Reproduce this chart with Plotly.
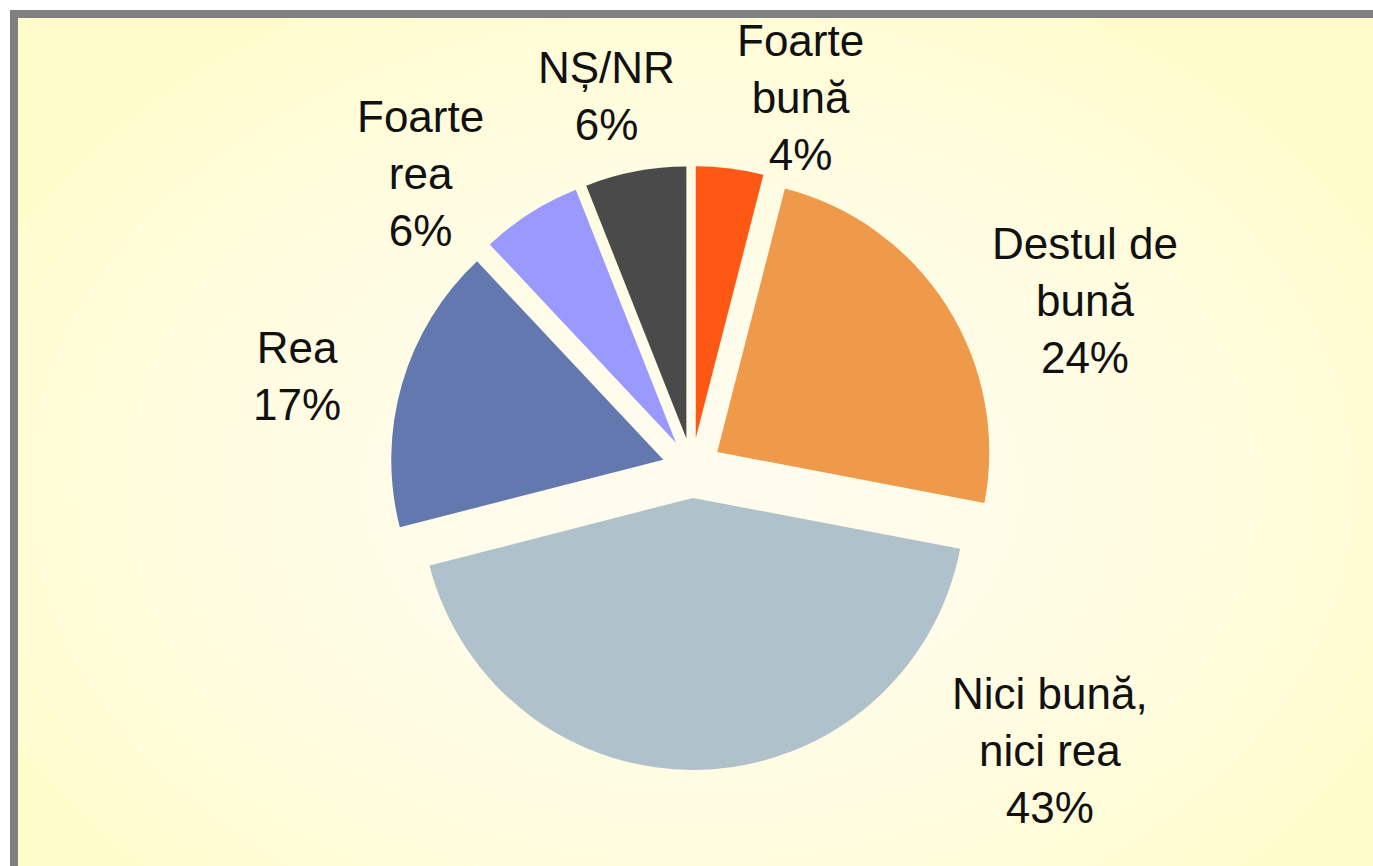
import plotly.graph_objects as go

categories = ["Foarte bună", "Destul de bună", "Nici bună, nici rea", "Rea", "Foarte rea", "NȘ/NR"]
label_lines = ["Foarte<br>bună", "Destul de<br>bună", "Nici bună,<br>nici rea", "Rea", "Foarte<br>rea", "NȘ/NR"]
values = [4, 24, 43, 17, 6, 6]
colors = ["#FF5714", "#EE9A4A", "#AFC1CA", "#6478B0", "#9999FF", "#4A4A4A"]

W, H = 1373, 866
# label block centres in pixels
label_pos = [(800, 98), (1085, 300), (1050, 750), (297, 376), (420, 173), (606, 96)]

cx, cy = 692, 468
R = 272
pull = 0.11
half = R * (1 + pull)

fig = go.Figure()
fig.add_trace(go.Pie(
    labels=categories,
    values=values,
    sort=False,
    direction="clockwise",
    rotation=0,
    pull=[pull] * len(values),
    marker=dict(colors=colors, line=dict(width=0)),
    textinfo="none",
    hoverinfo="label+percent",
    showlegend=False,
    domain=dict(x=[(cx - half) / W, (cx + half) / W], y=[1 - (cy + half) / H, 1 - (cy - half) / H]),
))

shapes = []
# panel
shapes.append(dict(type="rect", xref="paper", yref="paper", x0=14 / W, y0=-0.1, x1=1.1, y1=1 - 14 / H,
                   fillcolor="#FFFCCB", line=dict(width=0), layer="below"))
# radial lightening toward centre
n = 14
for i in range(n):
    rx = 760 - i * 48
    ry = rx * 0.72
    shapes.append(dict(type="circle", xref="paper", yref="paper",
                       x0=(cx - rx) / W, x1=(cx + rx) / W,
                       y0=1 - (cy + 20 + ry) / H, y1=1 - (cy + 20 - ry) / H,
                       fillcolor="white", opacity=0.09, line=dict(width=0), layer="below"))
# border (left and top visible)
shapes.append(dict(type="rect", xref="paper", yref="paper", x0=14 / W, y0=-0.1, x1=1.1, y1=1 - 14 / H,
                   fillcolor="rgba(0,0,0,0)", line=dict(color="#808080", width=8), layer="below"))

annotations = []
for lab, v, (px, py) in zip(label_lines, values, label_pos):
    annotations.append(dict(text=f"{lab}<br>{v}%", x=px / W, y=1 - py / H, xref="paper", yref="paper",
                            xanchor="center", yanchor="middle", showarrow=False, align="center",
                            font=dict(family="Liberation Sans, Arial, sans-serif", size=44, color="#111111")))

fig.update_layout(
    width=W, height=H,
    margin=dict(l=0, r=0, t=0, b=0),
    paper_bgcolor="white",
    plot_bgcolor="white",
    shapes=shapes,
    annotations=annotations,
)

fig.write_html("out.html", config={"displayModeBar": False},
               post_script="document.body.style.margin='0px';document.body.style.overflow='hidden';")
